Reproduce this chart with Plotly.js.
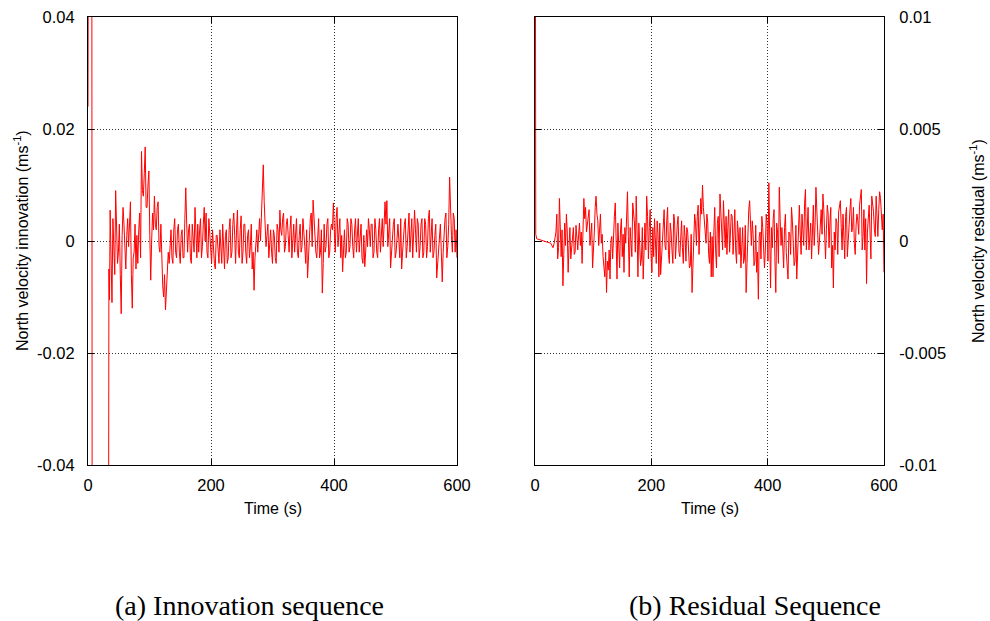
<!DOCTYPE html>
<html>
<head>
<meta charset="utf-8">
<script src="https://cdn.plot.ly/plotly-3.0.1.min.js"></script>
<style>html,body{margin:0;padding:0;background:#fff;}#chart{width:990px;height:621px;}</style>
</head>
<body>
<div id="chart"></div>
<script>
// ---- Data ----
// (a) Innovation: start-up transient, then readings every 3 s from t = 36 s (main)
//     and the in-between readings at t = 37.5 s, 40.5 s, ... (mid)
const innovTransientT = [0, 1.5, 6, 7, 33, 34, 35];
const innovTransientV = [0.024, 0.1, 0.1, -0.1, -0.1, -0.005, -0.0105];
const innovMain = [
  0.0055,-0.011,-0.003,0.009,-0.004,0.003,-0.013,0.006,-0.003,0.001,
  -0.001,0.007,-0.012,-0.002,-0.005,-0.004,0.005,0.016,0.008,0.0168,
  0.006,0.0125,-0.007,0.005,0.008,0.002,0.007,-0.002,-0.005,-0.01,
  -0.0123,-0.007,-0.004,0.002,-0.004,0.004,-0.003,0.003,-0.004,0.002,
  -0.003,0.0095,-0.002,0.003,-0.004,0.001,0.006,-0.003,-0.002,0.004,
  -0.001,0.006,0.005,-0.003,0.001,-0.004,-0.002,-0.005,0.001,-0.004,
  -0.002,0.003,-0.005,0.002,-0.003,0.004,-0.002,0.005,-0.004,0.0055,
  -0.003,0.0045,-0.002,0.003,-0.004,0.002,-0.001,-0.005,-0.0088,0.001,
  -0.002,0.004,0.006,0.0136,0.004,0.001,-0.003,0.002,-0.004,0.001,
  -0.004,0.002,0.0055,0.001,0.005,-0.001,0.004,-0.002,0.0045,0.001,
  -0.002,0.004,-0.003,0.003,-0.001,0.002,-0.004,-0.0066,0.001,0.005,
  0.0073,0.002,-0.003,0.004,-0.002,-0.0093,0.003,-0.001,0.004,-0.002,
  0.003,0.0068,-0.002,0.006,0.001,-0.003,-0.0055,0.002,-0.002,0.003,
  -0.001,0.003,-0.003,0.004,0.001,-0.002,0.003,-0.004,-0.0046,0.002,
  0.004,-0.001,0.003,-0.002,0.002,-0.003,0.004,0.001,-0.001,0.007,
  0.0072,0.002,-0.0048,0.001,0.004,-0.002,0.003,-0.003,-0.005,0.002,
  0.004,-0.001,0.005,0.001,-0.003,0.0055,-0.002,0.003,-0.001,0.004,
  -0.002,0.003,-0.001,0.0055,0.002,-0.003,0.001,-0.0066,-0.002,0.003,
  -0.0073,0.002,0.005,-0.001,0.0114,0.001,0.005,-0.002,-0.003
];
const innovMid = [
  -0.004,0.004,-0.006,0.002,-0.002,-0.006,0.001,0.003,-0.005,0.004,
  0.003,-0.006,-0.003,0.003,0.001,0.002,-0.003,0.009,0.012,0.006,
  0.010,0.001,0.000,0.002,0.003,0.006,-0.001,0.003,-0.008,-0.006,
  -0.009,-0.002,0.001,-0.003,0.002,-0.002,0.002,-0.002,0.001,-0.003,
  0.004,0.003,0.002,-0.003,0.003,-0.002,0.002,0.003,0.002,-0.003,
  0.003,0.000,-0.002,0.004,-0.003,0.002,-0.004,0.001,-0.003,0.002,
  -0.004,0.000,0.001,-0.004,0.002,-0.003,0.003,0.001,0.002,-0.002,
  0.002,-0.004,0.003,-0.002,0.001,-0.003,0.003,-0.002,-0.003,0.002,
  0.001,0.000,0.008,0.007,-0.001,0.003,0.000,-0.002,0.002,-0.003,
  0.003,-0.002,0.002,0.004,-0.002,0.003,0.001,0.002,-0.003,0.003,
  0.002,-0.002,0.001,-0.002,0.004,-0.001,0.002,-0.003,0.004,-0.001,
  0.004,-0.002,0.002,-0.003,0.002,-0.004,-0.002,0.003,-0.003,0.002,
  0.002,0.002,0.004,-0.001,0.004,0.001,-0.001,-0.003,0.004,-0.002,
  0.004,-0.001,0.002,-0.002,0.004,0.002,-0.003,0.001,-0.002,-0.001,
  0.002,0.003,-0.003,0.004,-0.002,0.002,-0.002,0.004,0.003,0.003,
  -0.001,0.004,-0.002,0.003,-0.003,0.002,0.000,0.004,-0.002,0.003,
  -0.003,0.003,-0.002,0.004,0.001,0.002,0.004,-0.003,0.003,-0.003,
  0.004,-0.003,0.004,-0.002,0.004,-0.002,0.003,-0.004,0.001,-0.002,
  -0.002,0.004,-0.003,0.003,0.004,-0.002,0.004,0.002
];
// (b) Residual: start-up transient, then readings on the same two time grids
const residTransientT = [0, 0.6, 1.3, 3, 10, 20, 27, 31, 33];
const residTransientV = [0.03, 0.03, 0.0003, 0.0001, 0.00004, -0.00003, -0.0001, -0.0003, -0.0001];
const residMain = [
  0.0004,-0.0008,0.0019,-0.0007,-0.002,0.0008,0.0012,-0.0014,0.0006,-0.0004,
  0.0006,-0.0005,0.0002,0.0003,-0.0002,-0.001,0.0019,0.0015,0.0008,0.0014,
  0.0002,-0.0012,0.0004,0.002,0.0009,0.0005,-0.0001,-0.0007,-0.0016,-0.0023,
  -0.0013,-0.0017,0.0002,0.0006,0.0017,-0.0017,-0.0001,0.0005,-0.0007,-0.0014,
  -0.0001,0.0022,-0.0016,0.0001,0.0017,0.0008,0.002,-0.0016,-0.0001,-0.0008,
  -0.0017,0.0008,0.002,-0.0008,0.0014,-0.0014,-0.0007,-0.0001,0.0009,-0.0016,
  -0.0015,0.0002,0.0014,-0.0004,0.0015,-0.001,0.0004,-0.001,0.0009,0.0001,
  0.0011,-0.0007,0.0009,-0.001,0.0002,0.0006,-0.0004,-0.0011,-0.0023,-0.0004,
  0.0008,0.0011,-0.0006,0.0019,0.0025,0.0008,-0.0001,0.0008,-0.001,-0.0016,
  -0.0016,0.0015,-0.0012,0.0011,0.0021,0.0005,0.0018,-0.0003,-0.0006,0.0014,
  0.0003,0.0011,0.0003,-0.0004,0.0009,-0.0006,-0.0012,0.0006,-0.0008,-0.0023,
  0.0005,0.0018,-0.0002,0.0003,-0.0009,-0.0014,-0.0026,0.0004,0.0011,-0.0008,
  -0.0004,0.0008,0.0026,-0.0021,-0.0003,0.0014,-0.0023,0.0004,0.0024,-0.0002,
  -0.0008,0.0006,-0.0005,-0.0017,0.0003,0.0015,0.0001,-0.0009,-0.0017,0.0002,
  0.0003,0.0012,-0.0002,0.0023,0.0006,-0.0004,0.0008,0.0011,-0.0002,0.0024,
  0.0009,0.0000,0.0014,0.0021,0.0004,0.0005,0.0012,0.0008,-0.0012,-0.0021,
  -0.0004,0.0008,0.0013,0.0018,-0.0004,0.0003,0.0011,-0.0007,0.0006,0.0019,
  0.0006,-0.0001,0.0007,0.0009,0.0016,0.0023,0.0002,-0.0004,-0.0019,0.0009,
  0.0004,0.002,0.0013,0.0002,0.0011,0.0014,0.0019,0.0005,-0.0014
];
const residMid = [
  0.0012,-0.0003,0.0008,0.0005,-0.0006,-0.0002,0.0004,-0.0002,-0.0008,0.0002,
  -0.0006,0.0007,-0.0004,0.0008,0.0004,0.0006,0.0010,0.0004,0.0012,-0.0002,
  0.0008,0.0001,0.0015,0.0012,-0.0002,0.0012,0.0003,-0.0012,-0.0005,-0.0009,
  -0.0004,0.0000,-0.0008,0.0011,-0.0003,0.0008,-0.0012,0.0010,0.0003,0.0006,
  0.0010,0.0002,0.0006,-0.0007,0.0012,-0.0005,0.0004,0.0008,-0.0011,0.0006,
  0.0002,-0.0004,0.0011,0.0006,-0.0006,0.0006,0.0010,-0.0010,0.0003,0.0008,
  -0.0008,0.0010,-0.0002,0.0009,-0.0006,0.0008,-0.0004,0.0012,-0.0008,0.0007,
  -0.0005,0.0006,-0.0003,0.0007,-0.0009,0.0004,-0.0012,0.0003,-0.0010,0.0012,
  -0.0002,0.0016,0.0010,0.0012,0.0015,0.0002,0.0012,-0.0006,0.0004,0.0002,
  0.0004,-0.0004,0.0008,-0.0007,0.0013,-0.0004,0.0008,0.0011,0.0006,-0.0005,
  0.0012,-0.0006,0.0014,-0.0010,0.0004,0.0006,0.0002,-0.0010,0.0007,-0.0010,
  0.0014,0.0006,0.0009,-0.0011,0.0007,-0.0005,0.0002,-0.0008,0.0006,-0.0012,
  0.0012,-0.0009,0.0008,0.0006,0.0010,-0.0009,0.0008,-0.0010,0.0010,0.0006,
  -0.0012,0.0012,-0.0014,0.0004,-0.0006,0.0009,-0.0011,0.0007,-0.0004,0.0016,
  -0.0006,0.0004,0.0017,-0.0004,0.0015,0.0002,-0.0008,0.0016,0.0007,0.0012,
  -0.0006,0.0010,0.0003,0.0014,-0.0008,0.0016,-0.0003,0.0015,-0.0002,0.0004,
  0.0010,-0.0006,0.0016,0.0006,0.0012,-0.0008,0.0015,0.0002,0.0014,0.0004,
  0.0015,-0.0006,0.0012,0.0003,0.0019,-0.0004,0.0014,0.0010,0.0004,0.0016,
  -0.0008,0.0016,0.0005,0.0020,0.0002,0.0022,0.0011,0.0012
];
const noiseStartT = 36, noiseStepT = 3;
const xTicks = [0, 200, 400, 600];
const yTicksA = [-0.04, -0.02, 0, 0.02, 0.04];
const yTickTextA = ['-0.04', '-0.02', '0', '0.02', '0.04'];
const yTicksB = [-0.01, -0.005, 0, 0.005, 0.01];
const yTickTextB = ['-0.01', '-0.005', '0', '0.005', '0.01'];
const xTitle = 'Time (s)';
const yTitleA = 'North velocity innovation (ms<sup>-1</sup>)';
const yTitleB = 'North velocity residual (ms<sup>-1</sup>)';
const captionA = '(a) Innovation sequence';
const captionB = '(b) Residual Sequence';

// ---- Build series: transient + main/mid readings in time order ----
function buildSeries(trT, trV, main, mid) {
  const t = trT.slice(), v = trV.slice();
  for (let i = 0; i < main.length; i++) {
    t.push(noiseStartT + i * noiseStepT); v.push(main[i]);
    if (i < mid.length) { t.push(noiseStartT + i * noiseStepT + noiseStepT / 2); v.push(mid[i]); }
  }
  return {t: t, v: v};
}
const innov = buildSeries(innovTransientT, innovTransientV, innovMain, innovMid);
const resid = buildSeries(residTransientT, residTransientV, residMain, residMid);

const RED = '#ff0000';
const traces = [
  {x: innov.t, y: innov.v, type: 'scatter', mode: 'lines', line: {color: RED, width: 1}, xaxis: 'x', yaxis: 'y', hoverinfo: 'skip'},
  {x: resid.t, y: resid.v, type: 'scatter', mode: 'lines', line: {color: RED, width: 1}, xaxis: 'x2', yaxis: 'y2', hoverinfo: 'skip'}
];

const TICKFONT = {family: 'Liberation Sans, Arial, sans-serif', size: 16.5, color: '#000'};
const TITLEFONT = {family: 'Liberation Sans, Arial, sans-serif', size: 16, color: '#000'};
const CAPFONT = {family: 'Liberation Serif, Times New Roman, serif', size: 28, color: '#000'};

function xAxis(domain, anchor) {
  return {domain: domain, anchor: anchor, range: [0, 600], tickvals: xTicks, ticktext: xTicks.map(String),
    ticks: 'inside', ticklen: 6, tickcolor: '#000', showline: true, linecolor: '#000', linewidth: 1, mirror: 'ticks',
    showgrid: true, gridcolor: '#333', griddash: '1px,2px', gridwidth: 1, zeroline: false,
    tickfont: TICKFONT, ticklabelstandoff: 5, fixedrange: true};
}
function yAxis(domain, anchor, range, vals, text, side) {
  return {domain: domain, anchor: anchor, range: range, tickvals: vals, ticktext: text, side: side,
    ticks: 'inside', ticklen: 6, tickcolor: '#000', showline: true, linecolor: '#000', linewidth: 1, mirror: 'ticks',
    showgrid: true, gridcolor: '#333', griddash: '1px,2px', gridwidth: 1, zeroline: false,
    tickfont: TICKFONT, ticklabelstandoff: side === 'right' ? 11 : 9, fixedrange: true};
}

const W = 990, H = 621;
const yDom = [(H - 465) / H, (H - 17) / H];
const layout = {
  width: W, height: H, margin: {l: 0, r: 0, t: 0, b: 0},
  paper_bgcolor: '#fff', plot_bgcolor: '#fff', showlegend: false,
  xaxis: xAxis([88 / W, 457 / W], 'y'),
  yaxis: yAxis(yDom, 'x', [-0.04, 0.04], yTicksA, yTickTextA, 'left'),
  xaxis2: xAxis([535 / W, 884 / W], 'y2'),
  yaxis2: yAxis(yDom, 'x2', [-0.01, 0.01], yTicksB, yTickTextB, 'right'),
  annotations: [
    {text: xTitle, xref: 'paper', yref: 'paper', x: 272.5 / W, y: (H - 508) / H, xanchor: 'center', yanchor: 'middle', showarrow: false, font: TITLEFONT},
    {text: xTitle, xref: 'paper', yref: 'paper', x: 709.5 / W, y: (H - 508) / H, xanchor: 'center', yanchor: 'middle', showarrow: false, font: TITLEFONT},
    {text: yTitleA, xref: 'paper', yref: 'paper', x: 21 / W, y: (H - 241) / H, xanchor: 'center', yanchor: 'middle', textangle: -90, showarrow: false, font: TITLEFONT},
    {text: yTitleB, xref: 'paper', yref: 'paper', x: 977 / W, y: (H - 241) / H, xanchor: 'center', yanchor: 'middle', textangle: -90, showarrow: false, font: TITLEFONT},
    {text: captionA, xref: 'paper', yref: 'paper', x: 249 / W, y: (H - 605) / H, xanchor: 'center', yanchor: 'middle', showarrow: false, font: CAPFONT},
    {text: captionB, xref: 'paper', yref: 'paper', x: 755 / W, y: (H - 605) / H, xanchor: 'center', yanchor: 'middle', showarrow: false, font: CAPFONT}
  ]
};

Plotly.newPlot('chart', traces, layout, {displayModeBar: false, staticPlot: true});
</script>
</body>
</html>
